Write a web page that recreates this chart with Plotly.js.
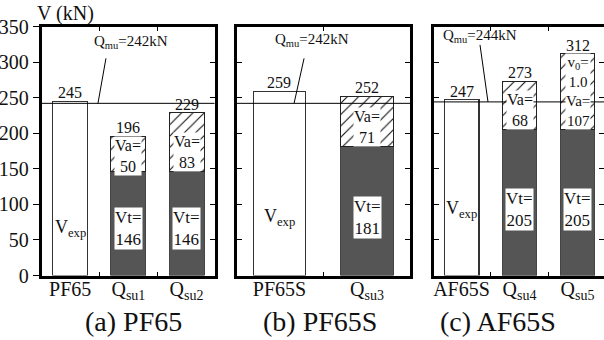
<!DOCTYPE html>
<html>
<head>
<meta charset="utf-8">
<script src="https://cdn.plot.ly/plotly-3.0.1.min.js"></script>
<style>html,body{margin:0;padding:0;background:#fff;}#chart{width:604px;height:340px;}</style>
</head>
<body>
<div id="chart"></div>
<script>
// ---- data ----
const catA = ['PF65', 'Q<sub>su1</sub>', 'Q<sub>su2</sub>'];
const expA = [245, null, null];
const vtA = [null, 146, 146];
const vaA = [null, 50, 83];
const noteA = [null, null, null];

const catB = ['PF65S', 'Q<sub>su3</sub>'];
const expB = [259, null];
const vtB = [null, 181];
const vaB = [null, 71];
const noteB = [null, null];

const catC = ['AF65S', 'Q<sub>su4</sub>', 'Q<sub>su5</sub>'];
const expC = [247, null, null];
const vtC = [null, 205, 205];
const vaC = [null, 68, 107];
const noteC = [null, null, 'v<sub>0</sub>=<br>1.0'];

const qmu = [242, 242, 244];
const yTicks = [0, 50, 100, 150, 200, 250, 300, 350];
const subtitles = ['(a) PF65', '(b) PF65S', '(c) AF65S'];
const expLabel = 'V<sub>exp</sub>';

// ---- layout helpers ----
const FONT = '"Liberation Serif", "Times New Roman", serif';
const W = 604, H = 340;
const yDom = [1 - 275.5 / H, 1 - 26.5 / H];
const panels = [
  {cat: catA, exp: expA, vt: vtA, va: vaA, note: noteA, xa: 'x', ya: 'y', xk: 'xaxis', yk: 'yaxis',
   dom: [41.7 / W, 214.5 / W], range: [-0.49, 2.48], lead: [0.477, 8, 45], txt: [1.044, 328]},
  {cat: catB, exp: expB, vt: vtB, va: vaB, note: noteB, xa: 'x2', ya: 'y2', xk: 'xaxis2', yk: 'yaxis2',
   dom: [236.5 / W, 410 / W], range: [-0.49, 1.49], lead: [0.167, 10, 45], txt: [0.373, 331]},
  {cat: catC, exp: expC, vt: vtC, va: vaC, note: noteC, xa: 'x3', ya: 'y3', xk: 'xaxis3', yk: 'yaxis3',
   dom: [433.5 / W, 1], range: [-0.483, 2.457], lead: [0.457, -8, 57], txt: [0.319, 336.5]}
];

const traces = [];
const annotations = [];
const shapes = [];
const layout = {
  width: W, height: H,
  margin: {l: 0, r: 0, t: 0, b: 0},
  paper_bgcolor: 'white', plot_bgcolor: 'white',
  showlegend: false, barmode: 'stack',
  font: {family: FONT, color: '#111', size: 16}
};

panels.forEach((p, i) => {
  const xs = p.cat.map((_, k) => k);
  traces.push({type: 'bar', x: xs, y: p.exp, xaxis: p.xa, yaxis: p.ya, width: 0.6,
    marker: {color: 'white', line: {color: '#333', width: 1.2}}, hoverinfo: 'skip'});
  traces.push({type: 'bar', x: xs, y: p.vt, xaxis: p.xa, yaxis: p.ya, width: 0.6,
    marker: {color: '#555555', line: {color: '#444', width: 1}}, hoverinfo: 'skip'});
  traces.push({type: 'bar', x: xs, y: p.va, xaxis: p.xa, yaxis: p.ya, width: 0.6,
    marker: {color: 'white', line: {color: '#222', width: 1},
      pattern: {shape: '/', fgcolor: '#111', bgcolor: 'white', size: 8, solidity: 0.14}}, hoverinfo: 'skip'});

  layout[p.xk] = {
    domain: p.dom, range: p.range, anchor: p.ya, tickmode: 'array', tickvals: xs, ticktext: p.cat,
    ticks: '', showline: true, linecolor: '#000', linewidth: 3, mirror: 'allticks',
    ticklabelstandoff: -7,
    showgrid: false, zeroline: false, tickfont: {family: FONT, size: 20, color: '#111'},
    minor: {tickmode: 'array', tickvals: xs.slice(0, -1).map(v => v + 0.5), ticks: 'inside', ticklen: 4, tickcolor: '#000', tickwidth: 1, showgrid: false},
    fixedrange: true
  };
  const yBase = {
    domain: yDom, range: [0, 350], anchor: p.xa, tickmode: 'array', tickvals: yTicks,
    showline: true, linecolor: '#000', linewidth: 3, showgrid: false, zeroline: false,
    tickcolor: '#000', tickwidth: 1, fixedrange: true
  };
  if (i === 0) {
    layout[p.yk] = Object.assign({}, yBase, {ticks: 'outside', ticklen: 6, mirror: true,
      tickfont: {family: FONT, size: 20, color: '#111'}});
  } else {
    layout[p.yk] = Object.assign({}, yBase, {ticks: 'inside', ticklen: 5, mirror: 'ticks', showticklabels: false});
  }

  shapes.push({type: 'line', xref: p.xa + ' domain', x0: 0, x1: 1, yref: p.ya, y0: qmu[i], y1: qmu[i],
    line: {color: '#000', width: 1}, layer: 'above'});
  shapes.push({type: 'line', xref: p.xa, yref: p.ya, xsizemode: 'pixel', ysizemode: 'pixel',
    xanchor: p.lead[0], yanchor: qmu[i], x0: 0, y0: 0, x1: p.lead[1], y1: p.lead[2],
    line: {color: '#000', width: 1}, layer: 'above'});
  annotations.push({xref: p.xa, yref: p.ya, x: p.txt[0], y: p.txt[1], showarrow: false,
    text: 'Q<sub>mu</sub>=' + qmu[i] + 'kN', font: {family: FONT, size: 15, color: '#111'},
    xanchor: 'center', yanchor: 'middle'});

  const vtMax = Math.max(...p.vt.filter(v => v != null));
  xs.forEach(k => {
    const total = (p.exp[k] || 0) + (p.vt[k] || 0) + (p.va[k] || 0);
    annotations.push({xref: p.xa, yref: p.ya, x: k, y: total, text: String(total), showarrow: false,
      yanchor: 'bottom', yshift: -1, borderpad: 0, font: {family: FONT, size: 16, color: '#111'}});
    if (p.exp[k] != null) {
      annotations.push({xref: p.xa, yref: p.ya, x: k, y: vtMax * 0.45, text: expLabel, showarrow: false,
        font: {family: FONT, size: 18, color: '#111'}});
    }
    if (p.vt[k] != null) {
      annotations.push({xref: p.xa, yref: p.ya, x: k, y: p.vt[k] * 0.45, text: 'Vt=<br>' + p.vt[k],
        showarrow: false, bgcolor: 'white', borderpad: 0, font: {family: FONT, size: 17, color: '#111'}});
    }
    if (p.va[k] != null) {
      if (p.note[k]) {
        // note and Va share one four-line label in the upper stack
        const yv = p.vt[k] + p.va[k] / 2;
        annotations.push({xref: p.xa, yref: p.ya, x: k, y: yv, text: p.note[k] + '<br>Va=<br>' + p.va[k],
          showarrow: false, bgcolor: 'white', borderpad: 0, font: {family: FONT, size: 15, color: '#111'}});
      } else {
        const yv = p.vt[k] + Math.min(p.va[k] / 2 - 3, 28);
        annotations.push({xref: p.xa, yref: p.ya, x: k, y: yv, text: 'Va=<br>' + p.va[k],
          showarrow: false, bgcolor: 'white', borderpad: 0, font: {family: FONT, size: 16, color: '#111'}});
      }
    }
  });

  annotations.push({xref: 'paper', yref: 'paper', x: [133, 320, 498][i] / W, y: 1 - 321 / H,
    text: subtitles[i], showarrow: false, xanchor: 'center', yanchor: 'middle',
    font: {family: FONT, size: 28, color: '#111'}});
});

layout.yaxis4 = {overlaying: 'y', side: 'right', anchor: 'x', range: [0, 350], tickmode: 'array',
  tickvals: yTicks, ticks: 'inside', ticklen: 5, tickcolor: '#000', showticklabels: false,
  showline: false, showgrid: false, zeroline: false, fixedrange: true};
traces.push({type: 'scatter', x: [], y: [], xaxis: 'x', yaxis: 'y4', hoverinfo: 'skip'});

annotations.push({xref: 'paper', yref: 'paper', x: 35 / W, y: 1 - 14 / H, text: 'V (kN)',
  showarrow: false, xanchor: 'left', yanchor: 'middle', font: {family: FONT, size: 20, color: '#111'}});

layout.annotations = annotations;
layout.shapes = shapes;

Plotly.newPlot('chart', traces, layout, {staticPlot: true, displayModeBar: false});
</script>
</body>
</html>
